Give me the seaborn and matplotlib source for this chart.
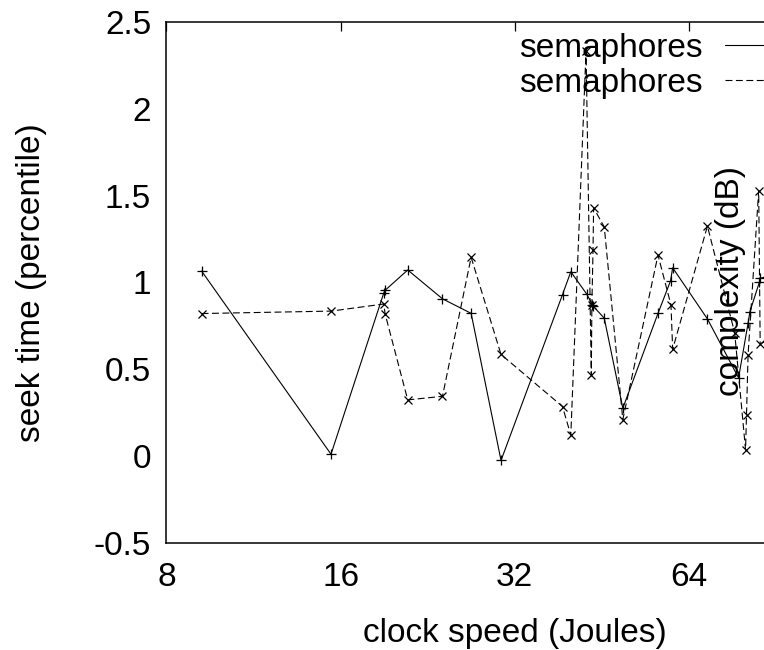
import matplotlib
matplotlib.use("Agg")
import matplotlib.pyplot as plt
import seaborn as sns
import pandas as pd
from matplotlib.ticker import FormatStrFormatter, FixedLocator, NullLocator

# ---- data ----
clock_a = [9.2, 15.4, 19.0, 19.1, 20.9, 24.0, 26.9, 30.3, 38.7, 40.0, 42.6, 43.6, 43.7,
           45.7, 49.2, 56.6, 59.5, 60.0, 68.9, 78.0, 81.0, 81.6, 84.7, 85.1, 92.0]
seek_a = [1.066, 0.01, 0.94, 0.955, 1.072, 0.906, 0.822, -0.026, 0.93, 1.062, 0.934, 0.872, 0.865,
          0.794, 0.275, 0.822, 1.01, 1.085, 0.79, 0.45, 0.765, 0.832, 1.0, 1.024, 1.06]

clock_b = [9.2, 15.4, 19.0, 19.1, 20.9, 24.0, 26.9, 30.3, 38.7, 40.0, 42.5, 43.4, 43.5, 43.7,
           43.8, 45.7, 49.2, 56.6, 59.6, 60.0, 68.9, 76.8, 80.2, 80.5, 81.0, 84.5, 85.0, 92.0]
seek_b = [0.821, 0.835, 0.876, 0.819, 0.323, 0.344, 1.145, 0.585, 0.285, 0.12, 2.335, 0.467, 0.87, 1.19,
          1.43, 1.32, 0.21, 1.158, 0.87, 0.615, 1.325, 0.71, 0.035, 0.236, 0.582, 1.53, 0.646, 0.70]

series_labels = ["semaphores", "semaphores"]
x_ticks = [8, 16, 32, 64, 128]
x_tick_labels = ["8", "16", "32", "64", ""]
y_ticks = [-0.5, 0, 0.5, 1, 1.5, 2, 2.5]

df_a = pd.DataFrame({"clock": clock_a, "seek": seek_a})
df_b = pd.DataFrame({"clock": clock_b, "seek": seek_b})

sns.set_style("white")
plt.rcParams["font.family"] = ["Liberation Sans", "DejaVu Sans"]
plt.rcParams["lines.scale_dashes"] = False
plt.rcParams["text.color"] = "black"
plt.rcParams["axes.labelcolor"] = "black"
plt.rcParams["xtick.color"] = "black"
plt.rcParams["ytick.color"] = "black"

fig = plt.figure(figsize=(7.64, 6.5), dpi=100)
ax = fig.add_axes([0.2179, 0.1651, 0.9117, 0.8006])

sns.lineplot(data=df_a, x="clock", y="seek", ax=ax, sort=False, estimator=None,
             color="black", linewidth=0.8, marker="+", markersize=7,
             markeredgewidth=0.9, markeredgecolor="black", label=series_labels[0])
sns.lineplot(data=df_b, x="clock", y="seek", ax=ax, sort=False, estimator=None,
             color="black", linewidth=0.8, marker="x", markersize=6,
             markeredgewidth=0.9, markeredgecolor="black", label=series_labels[1],
             dashes=False)
ax.lines[1].set_dashes((5, 2.5))

ax.set_xscale("log", base=2)
ax.set_xlim(8, 128)
ax.set_ylim(-0.5, 2.5)
ax.xaxis.set_major_locator(FixedLocator(x_ticks))
ax.set_xticklabels(x_tick_labels)
ax.xaxis.set_minor_locator(NullLocator())
ax.set_yticks(y_ticks)
ax.yaxis.set_major_formatter(FormatStrFormatter("%g"))

for s in ax.spines.values():
    s.set_visible(True)
    s.set_color("black")
    s.set_linewidth(1.1)

ax.tick_params(axis="both", which="major", direction="in", length=6.5, width=0.9,
               labelsize=24, top=True, right=True, colors="black")
ax.tick_params(axis="x", pad=14)
ax.tick_params(axis="y", pad=11)

ax.set_xlabel("clock speed (Joules)", fontsize=24, labelpad=18)
ax.set_ylabel("seek time (percentile)", fontsize=24)
ax.yaxis.set_label_coords(-0.172, 0.5)

ax.text(731 / 764, 1 - 281 / 650, "complexity (dB)", transform=fig.transFigure,
        rotation=90, fontsize=24, ha="center", va="center", color="black")

leg = ax.legend(loc="upper left", bbox_to_anchor=(519 / 764, 1 - 33 / 650),
                bbox_transform=fig.transFigure, frameon=False, fontsize=24,
                markerfirst=False, borderpad=0, borderaxespad=0,
                handletextpad=0.66, handlelength=3, labelspacing=0.11)

fig.savefig("out.png", dpi=100)
